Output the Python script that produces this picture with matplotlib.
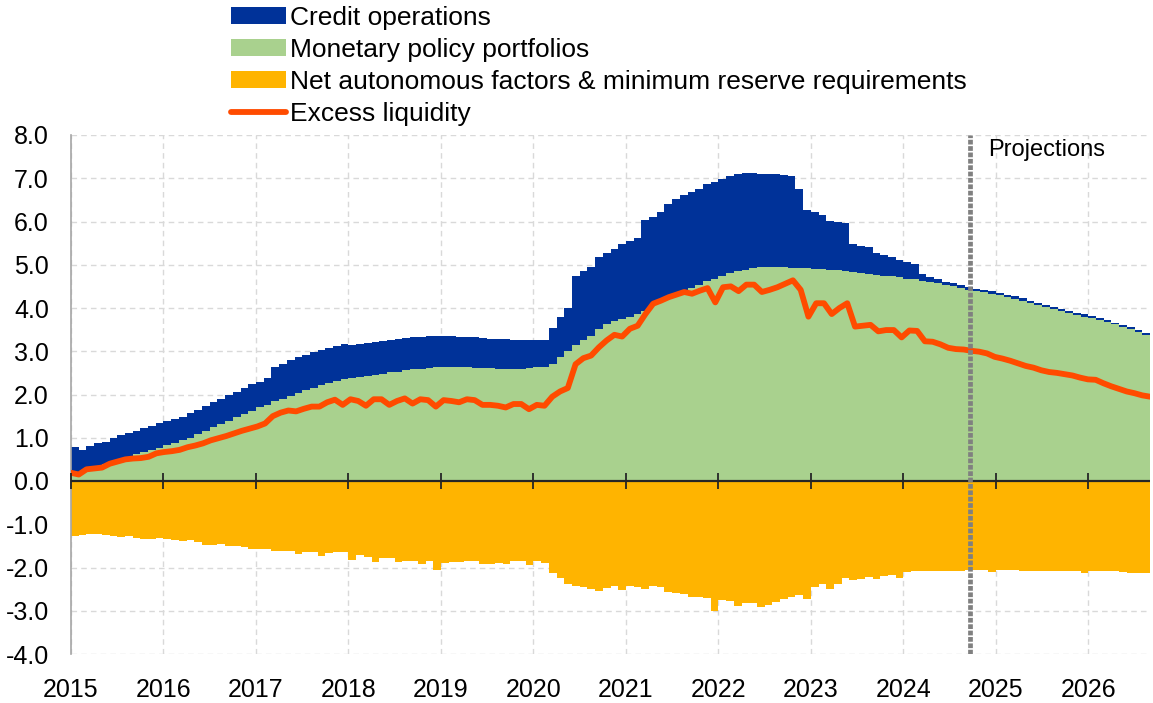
import numpy as np
import matplotlib
matplotlib.use("Agg")
import matplotlib.pyplot as plt
from matplotlib.patches import Patch
from matplotlib.lines import Line2D

plt.rcParams['font.family'] = ['Liberation Sans', 'DejaVu Sans']

# ---------------- data (EUR trillions, monthly Jan 2015 - Aug 2026) ----------------
start_year = 2015
years = list(range(2015, 2027))
projection_start_month = "2024-09"

credit_operations = [
    0.59, 0.47, 0.50, 0.52, 0.51, 0.57, 0.57, 0.56, 0.54, 0.56, 0.56, 0.58,
    0.56, 0.54, 0.55, 0.57, 0.57, 0.58, 0.58, 0.58, 0.60, 0.58, 0.59, 0.62,
    0.60, 0.62, 0.80, 0.81, 0.82, 0.82, 0.82, 0.82, 0.82, 0.81, 0.81, 0.80,
    0.77, 0.77, 0.76, 0.76, 0.76, 0.75, 0.75, 0.75, 0.74, 0.74, 0.73, 0.73,
    0.72, 0.71, 0.71, 0.69, 0.70, 0.70, 0.68, 0.68, 0.69, 0.67, 0.65, 0.64,
    0.62, 0.62, 0.84, 0.93, 0.99, 1.60, 1.59, 1.59, 1.67, 1.65, 1.66, 1.74,
    1.76, 1.78, 2.09, 2.04, 2.09, 2.16, 2.20, 2.22, 2.21, 2.22, 2.24, 2.24,
    2.24, 2.24, 2.24, 2.23, 2.20, 2.14, 2.14, 2.14, 2.13, 2.12, 1.83, 1.34,
    1.31, 1.23, 1.12, 1.11, 1.12, 0.64, 0.62, 0.62, 0.50, 0.47, 0.46, 0.39,
    0.38, 0.36, 0.16, 0.12, 0.10, 0.08, 0.07, 0.07, 0.06, 0.06, 0.06, 0.06,
    0.06, 0.06, 0.06, 0.05, 0.05, 0.05, 0.05, 0.05, 0.05, 0.05, 0.05, 0.05,
    0.05, 0.05, 0.05, 0.04, 0.04, 0.04, 0.04, 0.04,
]

monetary_policy_portfolios = [
    0.20, 0.24, 0.31, 0.35, 0.39, 0.43, 0.50, 0.54, 0.62, 0.66, 0.72, 0.77,
    0.83, 0.89, 0.94, 1.00, 1.08, 1.16, 1.24, 1.31, 1.39, 1.47, 1.55, 1.62,
    1.70, 1.76, 1.84, 1.90, 1.97, 2.04, 2.10, 2.16, 2.22, 2.27, 2.32, 2.36,
    2.38, 2.40, 2.43, 2.45, 2.47, 2.51, 2.53, 2.56, 2.58, 2.60, 2.62, 2.63,
    2.64, 2.64, 2.63, 2.63, 2.62, 2.61, 2.61, 2.60, 2.59, 2.59, 2.60, 2.61,
    2.63, 2.64, 2.70, 2.86, 3.01, 3.15, 3.26, 3.36, 3.52, 3.62, 3.71, 3.75,
    3.79, 3.85, 3.94, 4.06, 4.13, 4.25, 4.33, 4.39, 4.47, 4.54, 4.62, 4.68,
    4.75, 4.81, 4.85, 4.88, 4.93, 4.95, 4.95, 4.95, 4.94, 4.93, 4.93, 4.92,
    4.91, 4.91, 4.89, 4.88, 4.85, 4.83, 4.81, 4.79, 4.77, 4.75, 4.73, 4.71,
    4.68, 4.66, 4.63, 4.60, 4.57, 4.53, 4.50, 4.46, 4.42, 4.39, 4.36, 4.33,
    4.29, 4.25, 4.21, 4.17, 4.12, 4.07, 4.02, 3.97, 3.92, 3.88, 3.84, 3.80,
    3.77, 3.72, 3.67, 3.62, 3.57, 3.51, 3.45, 3.38,
]

net_autonomous_factors = [
    -1.28, -1.24, -1.22, -1.22, -1.24, -1.28, -1.30, -1.28, -1.32, -1.33, -1.33, -1.32,
    -1.33, -1.36, -1.39, -1.37, -1.41, -1.47, -1.48, -1.46, -1.51, -1.50, -1.53, -1.58,
    -1.58, -1.58, -1.63, -1.61, -1.62, -1.68, -1.65, -1.64, -1.73, -1.66, -1.64, -1.65,
    -1.82, -1.71, -1.76, -1.87, -1.79, -1.79, -1.88, -1.85, -1.84, -1.92, -1.85, -2.05,
    -1.90, -1.88, -1.88, -1.84, -1.84, -1.92, -1.93, -1.90, -1.92, -1.85, -1.84, -1.94,
    -1.84, -1.90, -2.13, -2.24, -2.38, -2.43, -2.44, -2.49, -2.55, -2.48, -2.43, -2.52,
    -2.42, -2.44, -2.50, -2.42, -2.46, -2.56, -2.59, -2.61, -2.68, -2.69, -2.71, -3.00,
    -2.75, -2.78, -2.88, -2.82, -2.82, -2.92, -2.86, -2.80, -2.73, -2.69, -2.63, -2.73,
    -2.44, -2.39, -2.49, -2.39, -2.25, -2.30, -2.26, -2.22, -2.27, -2.19, -2.18, -2.24,
    -2.11, -2.09, -2.07, -2.07, -2.08, -2.07, -2.08, -2.07, -2.05, -2.05, -2.05, -2.11,
    -2.05, -2.05, -2.06, -2.07, -2.07, -2.07, -2.07, -2.07, -2.07, -2.07, -2.07, -2.12,
    -2.08, -2.08, -2.09, -2.09, -2.10, -2.12, -2.13, -2.13,
]

excess_liquidity = [
    0.19, 0.15, 0.27, 0.29, 0.31, 0.40, 0.45, 0.50, 0.52, 0.53, 0.56, 0.64,
    0.67, 0.69, 0.72, 0.78, 0.82, 0.87, 0.94, 0.99, 1.04, 1.10, 1.16, 1.21,
    1.26, 1.33, 1.50, 1.58, 1.63, 1.61, 1.67, 1.72, 1.72, 1.82, 1.88, 1.76,
    1.89, 1.85, 1.74, 1.89, 1.89, 1.76, 1.85, 1.91, 1.79, 1.89, 1.87, 1.72,
    1.87, 1.85, 1.82, 1.89, 1.87, 1.76, 1.76, 1.74, 1.70, 1.78, 1.78, 1.66,
    1.76, 1.74, 1.95, 2.07, 2.15, 2.70, 2.84, 2.90, 3.09, 3.25, 3.38, 3.34,
    3.52, 3.59, 3.86, 4.10, 4.17, 4.25, 4.31, 4.37, 4.33, 4.40, 4.46, 4.13,
    4.48, 4.50, 4.39, 4.54, 4.54, 4.37, 4.42, 4.48, 4.56, 4.64, 4.42, 3.80,
    4.11, 4.11, 3.86, 4.00, 4.11, 3.57, 3.59, 3.61, 3.46, 3.49, 3.49, 3.32,
    3.48, 3.47, 3.23, 3.22, 3.16, 3.08, 3.05, 3.04, 3.01, 2.99, 2.95, 2.87,
    2.83, 2.78, 2.72, 2.66, 2.62, 2.56, 2.52, 2.50, 2.47, 2.44, 2.39, 2.35,
    2.34, 2.26, 2.19, 2.13, 2.07, 2.03, 1.98, 1.95,
]

y_ticks = [8.0, 7.0, 6.0, 5.0, 4.0, 3.0, 2.0, 1.0, 0.0, -1.0, -2.0, -3.0, -4.0]

labels = ["Credit operations", "Monetary policy portfolios",
          "Net autonomous factors & minimum reserve requirements", "Excess liquidity"]
c_blue, c_green, c_orange, c_line = "#003299", "#A9D18E", "#FFB400", "#FF4B00"

# ---------------- figure ----------------
n = len(credit_operations)
x = np.arange(n)

fig = plt.figure(figsize=(11.53, 7.03), dpi=100)
ax = fig.add_axes([71 / 1153, 1 - 654 / 703, (1150 - 71) / 1153, (654 - 135) / 703])

ax.bar(x, monetary_policy_portfolios, width=1.0, align='edge', color=c_green, linewidth=0, zorder=2)
ax.bar(x, credit_operations, width=1.0, align='edge', bottom=monetary_policy_portfolios,
       color=c_blue, linewidth=0, zorder=2)
ax.bar(x, net_autonomous_factors, width=1.0, align='edge', color=c_orange, linewidth=0, zorder=2)

x_line = np.linspace(0, n, n)
ax.plot(x_line, excess_liquidity, color=c_line, lw=4.2, zorder=4,
        solid_joinstyle='round', solid_capstyle='round')

# zero line and year ticks on it
year_pos = [(y - start_year) * 12 for y in years]
ax.axhline(0, color="#262626", lw=1.6, zorder=5)
ax.plot(year_pos, [0] * len(year_pos), linestyle='none', marker='|', markersize=11,
        markeredgewidth=1.3, color="#262626", zorder=5, clip_on=False)

# projections marker
py, pm = map(int, projection_start_month.split("-"))
proj_x = (py - start_year) * 12 + (pm - 1) + 0.6
ax.axvline(proj_x, color="#808080", lw=3.4, linestyle=(0, (1.0, 0.35)), zorder=6)
ax.text(proj_x + 2.4, 7.65, "Projections", fontsize=17, ha='left', va='center', color="#000000")

ax.set_xlim(0, n)
ax.set_ylim(-4, 8)
ax.set_yticks(y_ticks)
ax.set_yticklabels([f"{v:.1f}" for v in y_ticks])
ax.set_xticks(year_pos)
ax.set_xticklabels([str(y) for y in years])
ax.tick_params(axis='y', length=0, pad=16, labelsize=18)
ax.tick_params(axis='x', length=0, pad=17, labelsize=18)

ax.grid(True, color="#D9D9D9", linestyle=(0, (4, 3)), lw=1.0, zorder=0)
ax.set_axisbelow(True)
for s in ["top", "right", "bottom"]:
    ax.spines[s].set_visible(False)
ax.spines["left"].set_color("#A6A6A6")
ax.spines["left"].set_linewidth(1.2)

handles = [Patch(facecolor=c_blue, edgecolor='none'),
           Patch(facecolor=c_green, edgecolor='none'),
           Patch(facecolor=c_orange, edgecolor='none'),
           Line2D([0], [0], color=c_line, lw=4.2, solid_capstyle='round')]
fig.legend(handles, labels, loc='upper left', bbox_to_anchor=(231 / 1153, 1 - 6 / 703),
           frameon=False, fontsize=19, handlelength=2.1, handleheight=0.6,
           handletextpad=0.12, labelspacing=0.3, borderaxespad=0, borderpad=0.0)

fig.savefig("out.png", dpi=100)
